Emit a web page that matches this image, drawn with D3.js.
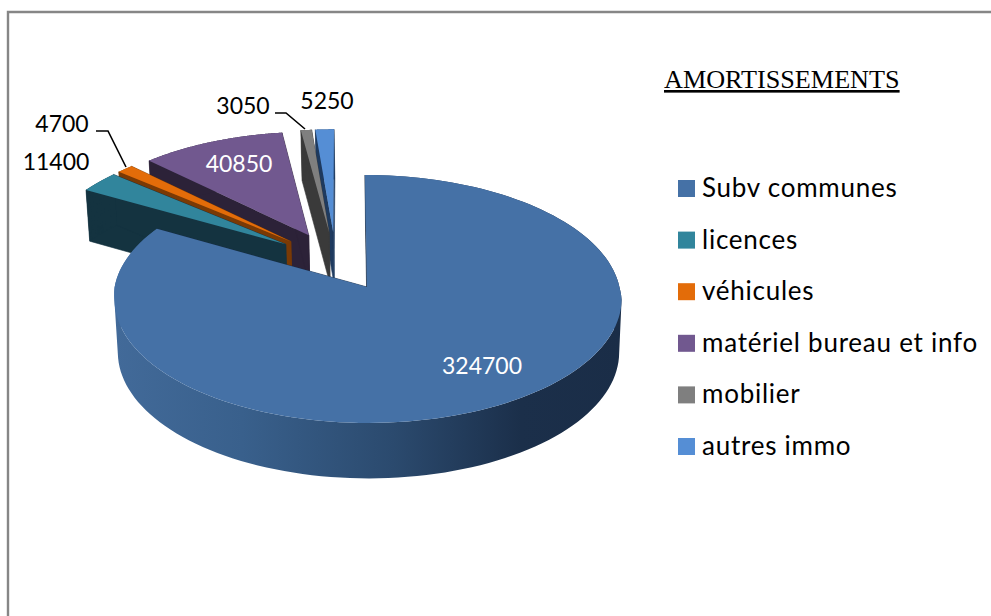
<!DOCTYPE html>
<html>
<head>
<meta charset="utf-8">
<style>
    html, body { margin: 0; padding: 0; background: #fff; }
    svg { display: block; }
    text { font-family: Lato, "Open Sans", sans-serif; }
</style>
</head>
<body>
<svg id="chart" width="991" height="616"></svg>
<script src="https://d3js.org/d3.v7.min.js"></script>
<script>
    const categories = ["Subv communes", "licences", "véhicules", "matériel bureau et info", "mobilier", "autres immo"];
    const amounts = [324700, 11400, 4700, 40850, 3050, 5250];
    const chartTitle = "AMORTISSEMENTS";

    const faceColors = ["#4571a6", "#31859c", "#e36c09", "#71588f", "#7f7f7f", "#558ed5"];
    const wallColors = ["#1a2d47", "#143340", "#7a3a05", "#2c2238", "#3a3a3a", "#1e3a5f"];
    const labelColors = ["#fff", "#000", "#000", "#fff", "#000", "#000"];
    const labelSpots = [[482, 365], [56, 161], [62, 123], [239, 163], [243, 105], [327, 100]];
    const drawOrder = [5, 4, 3, 2, 1, 0];

    const tilt = 0.0968;
    const explode = 0.25;

    // top and bottom planes of the tilted disc
    const topPlane = {
        x: d3.scaleLinear().domain([-1, 1]).range([368 - 252.4, 368 + 252.4]),
        y: d3.scaleLinear().domain([-1, 1]).range([287 - 122.8, 287 + 122.8])
    };
    const bottomPlane = {
        x: d3.scaleLinear().domain([-1, 1]).range([368.5 - 249.5, 368.5 + 249.5]),
        y: d3.scaleLinear().domain([-1, 1]).range([340 - 125, 340 + 125])
    };

    function project(plane, p) {
        let s = 1 / (1 - tilt * p[1]);
        // the far side leans a little to the left
        let lean = p[1] <= 0 ? 1 - 2 * p[1] : Math.max(0, 1 - p[1] * 10);
        return [plane.x(p[0] * s) - lean, plane.y(p[1] * s)];
    }

    const svg = d3.select("#chart");
    const line = d3.line();

    let grad = svg.append("defs").append("linearGradient")
        .attr("id", "mainWall")
        .attr("gradientUnits", "userSpaceOnUse")
        .attr("x1", 115).attr("x2", 622).attr("y1", 0).attr("y2", 0);
    grad.selectAll("stop")
        .data([[0, "#426a99"], [0.25, "#39608c"], [0.55, "#2b4a6e"], [0.8, "#1b2f4a"], [1, "#1a2d47"]])
        .enter().append("stop")
        .attr("offset", function (d) { return d[0]; })
        .attr("stop-color", function (d) { return d[1]; });

    // frame
    svg.append("path")
        .attr("d", "M8,616V12H991")
        .attr("fill", "none")
        .attr("stroke", "#868686")
        .attr("stroke-width", 2.4);

    let slices = d3.pie().sort(null).value(function (d) { return d; })(amounts);

    function direction(a) {
        return [Math.sin(a), -Math.cos(a)];
    }
    function midAngle(d) {
        return (d.startAngle + d.endAngle) / 2;
    }

    // quads of the outer wall, same winding, so one path fills them without seams
    function wallPath(rim) {
        return d3.pairs(rim).map(function (q) {
            let quad = [project(topPlane, q[0]), project(topPlane, q[1]), project(bottomPlane, q[1]), project(bottomPlane, q[0])];
            if (d3.polygonArea(quad) < 0) {
                quad.reverse();
            }
            return line(quad) + "Z";
        }).join("");
    }

    let mainDir = direction(midAngle(slices[0]));

    drawOrder.forEach(function (i) {
        let d = slices[i];
        let dir = direction(midAngle(d));
        let off = [explode * (dir[0] - mainDir[0]), explode * (dir[1] - mainDir[1])];

        let rim = d3.range(0, 1.0001, 1 / 150).map(function (t) {
            let u = direction(d.startAngle + t * (d.endAngle - d.startAngle));
            return [u[0] + off[0], u[1] + off[1]];
        });
        let g = svg.append("g").attr("class", "slice");

        // two radial walls
        [rim[0], rim[rim.length - 1]].forEach(function (p) {
            g.append("path")
                .attr("d", line([project(topPlane, off), project(topPlane, p), project(bottomPlane, p), project(bottomPlane, off)]) + "Z")
                .attr("fill", wallColors[i])
                .attr("stroke", wallColors[i])
                .attr("stroke-width", 0.6);
        });
        // outer wall
        g.append("path")
            .attr("d", wallPath(rim))
            .attr("fill", i === 0 ? "url(#mainWall)" : wallColors[i]);
        // top face
        g.append("path")
            .attr("d", line([project(topPlane, off)].concat(rim.map(function (p) { return project(topPlane, p); }))) + "Z")
            .attr("fill", faceColors[i]);
    });

    // value labels
    svg.selectAll("text.value")
        .data(amounts)
        .enter().append("text")
        .attr("class", "value")
        .attr("x", function (d, i) { return labelSpots[i][0]; })
        .attr("y", function (d, i) { return labelSpots[i][1]; })
        .attr("text-anchor", "middle")
        .attr("dominant-baseline", "central")
        .attr("font-size", 23)
        .attr("fill", function (d, i) { return labelColors[i]; })
        .text(function (d) { return d; });

    // leader lines
    svg.selectAll("path.leader")
        .data(["M96,131H108L126,167", "M275,113H286L305,129"])
        .enter().append("path")
        .attr("class", "leader")
        .attr("d", function (d) { return d; })
        .attr("fill", "none")
        .attr("stroke", "#000")
        .attr("stroke-width", 1.6);

    // title
    svg.append("text")
        .attr("x", 664)
        .attr("y", 88)
        .attr("font-size", 26.2)
        .style("font-family", "'Liberation Serif', serif")
        .style("text-decoration", "underline")
        .attr("fill", "#000")
        .text(chartTitle);

    // legend
    let legendY = d3.scalePoint().domain(categories).range([188.5, 446.5]);
    let legend = svg.selectAll("g.legend")
        .data(categories)
        .enter().append("g")
        .attr("class", "legend")
        .attr("transform", function (d) { return "translate(678," + legendY(d) + ")"; });
    legend.append("rect")
        .attr("x", 0).attr("y", -8.5)
        .attr("width", 17).attr("height", 17)
        .attr("fill", function (d, i) { return faceColors[i]; });
    legend.append("text")
        .attr("x", 24)
        .attr("y", -1.5)
        .attr("dominant-baseline", "central")
        .attr("font-size", 26)
        .attr("letter-spacing", 0.75)
        .attr("fill", "#000")
        .text(function (d) { return d; });
</script>
</body>
</html>
